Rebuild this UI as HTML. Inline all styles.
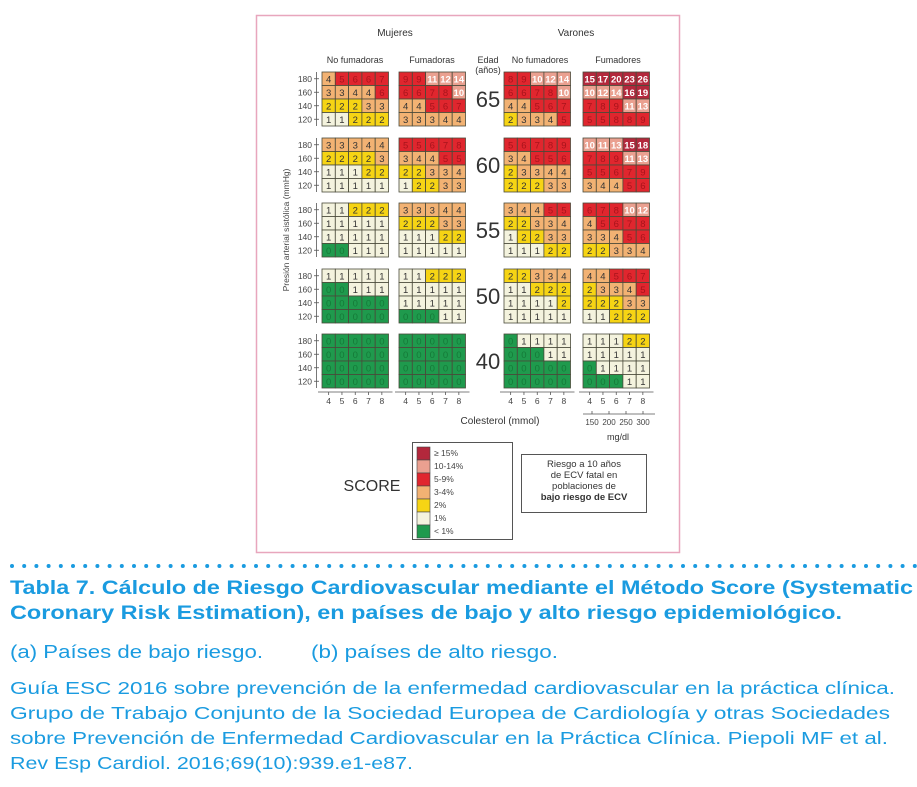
<!DOCTYPE html>
<html><head><meta charset="utf-8">
<style>
html,body{margin:0;padding:0;background:#fff;width:917px;height:787px;overflow:hidden}
svg{display:block;font-family:"Liberation Sans",sans-serif}
</style></head>
<body>
<svg id="chart" width="917" height="787" viewBox="0 0 917 787" xmlns="http://www.w3.org/2000/svg">
  <rect x="256.5" y="15.5" width="423" height="537" fill="#fff" stroke="#e8a6bd" stroke-width="1.5"/>
  <g font-size="10" fill="#333" text-anchor="middle">
    <text x="395" y="36">Mujeres</text>
    <text x="576" y="36">Varones</text>
    <text x="355" y="63" font-size="9">No fumadoras</text>
    <text x="432" y="63" font-size="9">Fumadoras</text>
    <text x="488" y="63" font-size="9">Edad</text>
    <text x="488" y="73" font-size="9">(años)</text>
    <text x="540" y="63" font-size="9">No fumadores</text>
    <text x="618" y="63" font-size="9">Fumadores</text>
  </g>
  <text transform="translate(289,230) rotate(-90)" font-size="8.5" fill="#444" text-anchor="middle">Presión arterial sistólica (mmHg)</text>
  <g id="grids"></g>
  <g id="xaxis"></g>
  <text x="500" y="424" font-size="10" fill="#333" text-anchor="middle">Colesterol (mmol)</text>
  <text x="618" y="440" font-size="9" fill="#333" text-anchor="middle">mg/dl</text>

  <text x="372" y="491" font-size="16" fill="#333" text-anchor="middle">SCORE</text>
  <rect x="412.5" y="442.5" width="100" height="97" fill="#fff" stroke="#555"/>
  <g id="legend"></g>
  <rect x="521.5" y="454.5" width="125" height="58" fill="#fff" stroke="#555"/>
  <g font-size="9.5" fill="#333" text-anchor="middle">
    <text x="584" y="467">Riesgo a 10 años</text>
    <text x="584" y="478">de ECV fatal en</text>
    <text x="584" y="489">poblaciones de</text>
    <text x="584" y="500" font-weight="bold">bajo riesgo de ECV</text>
  </g>

  <g id="dots" fill="#1a9be0"></g>
  <g fill="#1a9be0">
    <text x="10" y="594" font-size="19" font-weight="bold" textLength="903" lengthAdjust="spacingAndGlyphs">Tabla 7. Cálculo de Riesgo Cardiovascular mediante el Método Score (Systematic</text>
    <text x="10" y="619" font-size="19" font-weight="bold" textLength="832" lengthAdjust="spacingAndGlyphs">Coronary Risk Estimation), en países de bajo y alto riesgo epidemiológico.</text>
    <text x="10" y="658" font-size="18" textLength="253" lengthAdjust="spacingAndGlyphs">(a) Países de bajo riesgo.</text>
    <text x="311" y="658" font-size="18" textLength="247" lengthAdjust="spacingAndGlyphs">(b) países de alto riesgo.</text>
    <text x="10" y="694" font-size="17.5" textLength="885" lengthAdjust="spacingAndGlyphs">Guía ESC 2016 sobre prevención de la enfermedad cardiovascular en la práctica clínica.</text>
    <text x="10" y="719" font-size="17.5" textLength="880" lengthAdjust="spacingAndGlyphs">Grupo de Trabajo Conjunto de la Sociedad Europea de Cardiología y otras Sociedades</text>
    <text x="10" y="744" font-size="17.5" textLength="878" lengthAdjust="spacingAndGlyphs">sobre Prevención de Enfermedad Cardiovascular en la Práctica Clínica. Piepoli MF et al.</text>
    <text x="10" y="769" font-size="17.5" textLength="403" lengthAdjust="spacingAndGlyphs">Rev Esp Cardiol. 2016;69(10):939.e1-e87.</text>
  </g>
</svg>
<script>
const ages = [65, 60, 55, 50, 40];
const groups = ["mujeres-no-fumadoras", "mujeres-fumadoras", "varones-no-fumadores", "varones-fumadores"];
const pressureLabels = ["180", "160", "140", "120"];
const cholLabels = ["4", "5", "6", "7", "8"];
const mgdlLabels = ["150", "200", "250", "300"];
const womenNonSmoker = [
 [[4,5,6,6,7],[3,3,4,4,6],[2,2,2,3,3],[1,1,2,2,2]],
 [[3,3,3,4,4],[2,2,2,2,3],[1,1,1,2,2],[1,1,1,1,1]],
 [[1,1,2,2,2],[1,1,1,1,1],[1,1,1,1,1],[0,0,1,1,1]],
 [[1,1,1,1,1],[0,0,1,1,1],[0,0,0,0,0],[0,0,0,0,0]],
 [[0,0,0,0,0],[0,0,0,0,0],[0,0,0,0,0],[0,0,0,0,0]]];
const womenSmoker = [
 [[9,9,11,12,14],[6,6,7,8,10],[4,4,5,6,7],[3,3,3,4,4]],
 [[5,5,6,7,8],[3,4,4,5,5],[2,2,3,3,4],[1,2,2,3,3]],
 [[3,3,3,4,4],[2,2,2,3,3],[1,1,1,2,2],[1,1,1,1,1]],
 [[1,1,2,2,2],[1,1,1,1,1],[1,1,1,1,1],[0,0,0,1,1]],
 [[0,0,0,0,0],[0,0,0,0,0],[0,0,0,0,0],[0,0,0,0,0]]];
const menNonSmoker = [
 [[8,9,10,12,14],[6,6,7,8,10],[4,4,5,6,7],[2,3,3,4,5]],
 [[5,6,7,8,9],[3,4,5,5,6],[2,3,3,4,4],[2,2,2,3,3]],
 [[3,4,4,5,5],[2,2,3,3,4],[1,2,2,3,3],[1,1,1,2,2]],
 [[2,2,3,3,4],[1,1,2,2,2],[1,1,1,1,2],[1,1,1,1,1]],
 [[0,1,1,1,1],[0,0,0,1,1],[0,0,0,0,0],[0,0,0,0,0]]];
const menSmoker = [
 [[15,17,20,23,26],[10,12,14,16,19],[7,8,9,11,13],[5,5,8,8,9]],
 [[10,11,13,15,18],[7,8,9,11,13],[5,5,6,7,9],[3,4,4,5,6]],
 [[6,7,8,10,12],[4,5,6,7,8],[3,3,4,5,6],[2,2,3,3,4]],
 [[4,4,5,6,7],[2,3,3,4,5],[2,2,2,3,3],[1,1,2,2,2]],
 [[1,1,1,2,2],[1,1,1,1,1],[0,1,1,1,1],[0,0,0,1,1]]];
const legendLabels = ["≥ 15%", "10-14%", "5-9%", "3-4%", "2%", "1%", "< 1%"];

const NS = "http://www.w3.org/2000/svg";
const panelX = [322, 399, 504, 583];
const blockY = [72, 138, 203, 269, 334];
const cw = 13.3, ch = 13.5;
const xScale = (p, c) => panelX[p] + c * cw;
const yScale = (a, r) => blockY[a] + r * ch;
function colorOf(v){
  if (v >= 15) return "#b3283c";
  if (v >= 10) return "#eaa090";
  if (v >= 5) return "#e0262e";
  if (v >= 3) return "#f2b273";
  if (v >= 2) return "#f6d414";
  if (v >= 1) return "#f4f3de";
  return "#1f9a4d";
}
function textColorOf(v){
  if (v >= 10) return "#fff";
  if (v >= 5) return "#a8141c";
  if (v >= 1) return "#333";
  return "#157a38";
}
function mk(tag, attrs, parent){
  const e = document.createElementNS(NS, tag);
  for (const k in attrs) e.setAttribute(k, attrs[k]);
  parent.appendChild(e);
  return e;
}
const grids = document.getElementById("grids");
const all = [womenNonSmoker, womenSmoker, menNonSmoker, menSmoker];
all.forEach((data, p) => {
  data.forEach((block, a) => {
    const g = mk("g", {}, grids);
    
    
    block.forEach((row, r) => {
      row.forEach((v, c) => {
        const rc = mk("rect", {x: xScale(p, c), y: yScale(a, r), width: cw, height: ch, fill: colorOf(v), stroke: "#4a4a3a", "stroke-width": 0.8}, g);
        
        
        const t = mk("text", {x: xScale(p, c) + cw/2, y: yScale(a, r) + ch/2 + 3.5, "font-size": v >= 10 ? 9.5 : 9.5, "font-weight": v >= 10 ? "bold" : "normal", fill: textColorOf(v), "text-anchor": "middle"}, g);
        
        
        t.textContent = v;
      });
    });
  });
});
// age labels & y labels
ages.forEach((age, a) => {
  const t = mk("text", {x: 488, y: yScale(a, 2) + 8, "font-size": 22, fill: "#333", "text-anchor": "middle"}, grids);
  
  
  t.textContent = age;
  mk("line", {x1: 316.5, x2: 316.5, y1: yScale(a, 0), y2: yScale(a, 4), stroke: "#555", "stroke-width": 0.8}, grids);
  pressureLabels.forEach((lab, r) => {
    const ty = yScale(a, r) + ch/2;
    mk("line", {x1: 314, x2: 319, y1: ty, y2: ty, stroke: "#555", "stroke-width": 0.8}, grids);
    const yt = mk("text", {x: 312, y: ty + 3, "font-size": 8.5, fill: "#444", "text-anchor": "end"}, grids);
    
    
    yt.textContent = lab;
  });
});
// x axes
const xa = document.getElementById("xaxis");
const axY = 392;
panelX.forEach((px, p) => {
  mk("line", {x1: px - 4, x2: px + 5*cw + 4, y1: axY, y2: axY, stroke: "#555", "stroke-width": 0.8}, xa);
  cholLabels.forEach((lab, c) => {
    const cx = xScale(p, c) + cw/2;
    mk("line", {x1: cx, x2: cx, y1: axY, y2: axY + 3, stroke: "#555", "stroke-width": 0.8}, xa);
    const t = mk("text", {x: cx, y: axY + 12, "font-size": 8.5, fill: "#444", "text-anchor": "middle"}, xa);
    
    
    t.textContent = lab;
  });
});
const mgY = 414;
mk("line", {x1: 583, x2: 655, y1: mgY, y2: mgY, stroke: "#555", "stroke-width": 0.8}, xa);
mgdlLabels.forEach((lab, i) => {
  const cx = 592 + i * 17;
  mk("line", {x1: cx, x2: cx, y1: mgY - 3, y2: mgY, stroke: "#555", "stroke-width": 0.8}, xa);
  const t = mk("text", {x: cx, y: mgY + 11, "font-size": 8, fill: "#444", "text-anchor": "middle"}, xa);
  
  
  t.textContent = lab;
});
// legend
const lg = document.getElementById("legend");
const legendVals = [15, 10, 5, 3, 2, 1, 0];
legendLabels.forEach((lab, i) => {
  const y = 447 + i * 13;
  const r = mk("rect", {x: 417, y: y, width: 13, height: 13, fill: colorOf(legendVals[i]), stroke: "#444", "stroke-width": 0.6}, lg);
  
  
  const t = mk("text", {x: 434, y: y + 9, "font-size": 8.5, fill: "#444"}, lg);
  
  
  t.textContent = lab;
});
// dotted separator
const dots = document.getElementById("dots");
for (let x = 12; x < 917; x += 12.2) {
  mk("circle", {cx: x, cy: 566, r: 2}, dots);
}
</script>
</body></html>
